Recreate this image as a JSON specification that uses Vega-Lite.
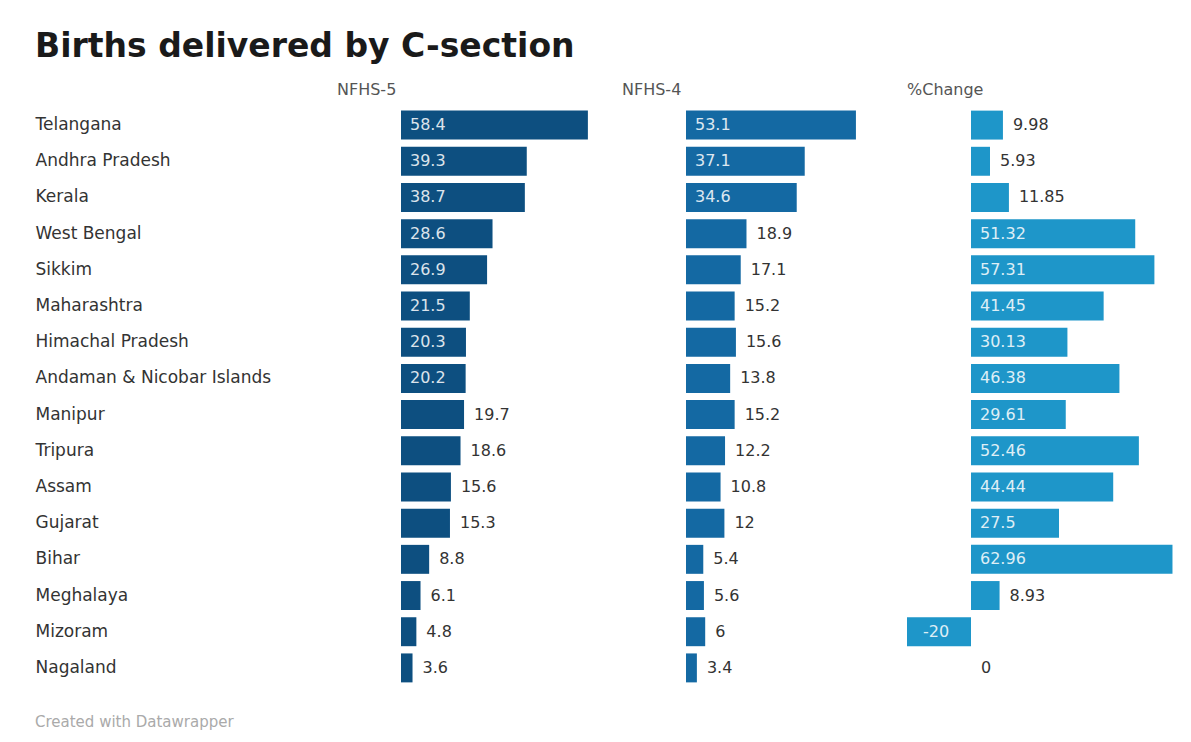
{
  "$schema": "https://vega.github.io/schema/vega-lite/v6.json",
  "background": "white",
  "padding": {"left": 35, "top": 31, "right": 0, "bottom": 5},
  "title": {"text": "Births delivered by C-section", "anchor": "start", "fontSize": 33, "font": "DejaVu Sans", "fontWeight": "bold", "color": "#1a1a1a", "offset": 18},
  "vconcat": [
    {
      "data": {"values": [
        {"state": "Telangana", "nfhs5": 58.4, "nfhs4": 53.1, "change": 9.98},
        {"state": "Andhra Pradesh", "nfhs5": 39.3, "nfhs4": 37.1, "change": 5.93},
        {"state": "Kerala", "nfhs5": 38.7, "nfhs4": 34.6, "change": 11.85},
        {"state": "West Bengal", "nfhs5": 28.6, "nfhs4": 18.9, "change": 51.32},
        {"state": "Sikkim", "nfhs5": 26.9, "nfhs4": 17.1, "change": 57.31},
        {"state": "Maharashtra", "nfhs5": 21.5, "nfhs4": 15.2, "change": 41.45},
        {"state": "Himachal Pradesh", "nfhs5": 20.3, "nfhs4": 15.6, "change": 30.13},
        {"state": "Andaman & Nicobar Islands", "nfhs5": 20.2, "nfhs4": 13.8, "change": 46.38},
        {"state": "Manipur", "nfhs5": 19.7, "nfhs4": 15.2, "change": 29.61},
        {"state": "Tripura", "nfhs5": 18.6, "nfhs4": 12.2, "change": 52.46},
        {"state": "Assam", "nfhs5": 15.6, "nfhs4": 10.8, "change": 44.44},
        {"state": "Gujarat", "nfhs5": 15.3, "nfhs4": 12, "change": 27.5},
        {"state": "Bihar", "nfhs5": 8.8, "nfhs4": 5.4, "change": 62.96},
        {"state": "Meghalaya", "nfhs5": 6.1, "nfhs4": 5.6, "change": 8.93},
        {"state": "Mizoram", "nfhs5": 4.8, "nfhs4": 6, "change": -20},
        {"state": "Nagaland", "nfhs5": 3.6, "nfhs4": 3.4, "change": 0}
      ]},
      "transform": [{"fold": ["nfhs5", "nfhs4", "change"], "as": ["measure", "value"]}],
      "facet": {
        "column": {
          "field": "measure", "type": "nominal", "sort": ["nfhs5", "nfhs4", "change"], "title": null,
          "header": {
            "labelExpr": "datum.value == 'nfhs5' ? 'NFHS-5' : datum.value == 'nfhs4' ? 'NFHS-4' : '%Change'",
            "labelAnchor": "start", "labelAlign": "left", "labelFontSize": 16, "labelColor": "#555555", "labelFont": "DejaVu Sans", "labelPadding": 9
          }
        }
      },
      "spacing": 0,
      "title": {"text": "Created with Datawrapper", "orient": "bottom", "anchor": "start", "fontSize": 15, "font": "DejaVu Sans", "fontWeight": "normal", "color": "#aaaaaa", "offset": 29},
      "spec": {
        "width": 285,
        "height": 579,
        "encoding": {
          "y": {
            "field": "state", "type": "nominal",
            "sort": ["Telangana", "Andhra Pradesh", "Kerala", "West Bengal", "Sikkim", "Maharashtra", "Himachal Pradesh", "Andaman & Nicobar Islands", "Manipur", "Tripura", "Assam", "Gujarat", "Bihar", "Meghalaya", "Mizoram", "Nagaland"],
            "scale": {"paddingInner": 0.2, "paddingOuter": 0.1},
            "axis": {"title": null, "ticks": false, "domain": false, "labelAlign": "left", "labelPadding": 302, "labelLimit": 0, "labelFontSize": 17, "labelFont": "DejaVu Sans", "labelColor": "#333333"}
          }
        },
        "layer": [
          {
            "mark": {"type": "bar"},
            "encoding": {
              "x": {"field": "value", "type": "quantitative", "scale": {"domain": [-20, 69.06], "nice": false}, "axis": null},
              "color": {"field": "measure", "type": "nominal", "scale": {"domain": ["nfhs5", "nfhs4", "change"], "range": ["#0d4f80", "#1469a3", "#1e96c9"]}, "legend": null}
            }
          },
          {
            "transform": [{"filter": "datum.value >= 20"}],
            "mark": {"type": "text", "align": "left", "baseline": "middle", "dx": 9, "color": "#ffffff", "font": "DejaVu Sans", "fontSize": 16, "opacity": 0.85},
            "encoding": {"x": {"datum": 0, "type": "quantitative"}, "text": {"field": "value", "type": "nominal"}}
          },
          {
            "transform": [{"filter": "datum.value < 20 && datum.value >= 0"}],
            "mark": {"type": "text", "align": "left", "baseline": "middle", "dx": 10, "color": "#333333", "font": "DejaVu Sans", "fontSize": 16},
            "encoding": {"x": {"field": "value", "type": "quantitative"}, "text": {"field": "value", "type": "nominal"}}
          },
          {
            "transform": [{"filter": "datum.value < 0"}],
            "mark": {"type": "text", "align": "left", "baseline": "middle", "dx": 16, "color": "#ffffff", "font": "DejaVu Sans", "fontSize": 16, "opacity": 0.85},
            "encoding": {"x": {"field": "value", "type": "quantitative"}, "text": {"field": "value", "type": "nominal"}}
          }
        ]
      }
    }
  ],
  "config": {"view": {"stroke": null}}
}
